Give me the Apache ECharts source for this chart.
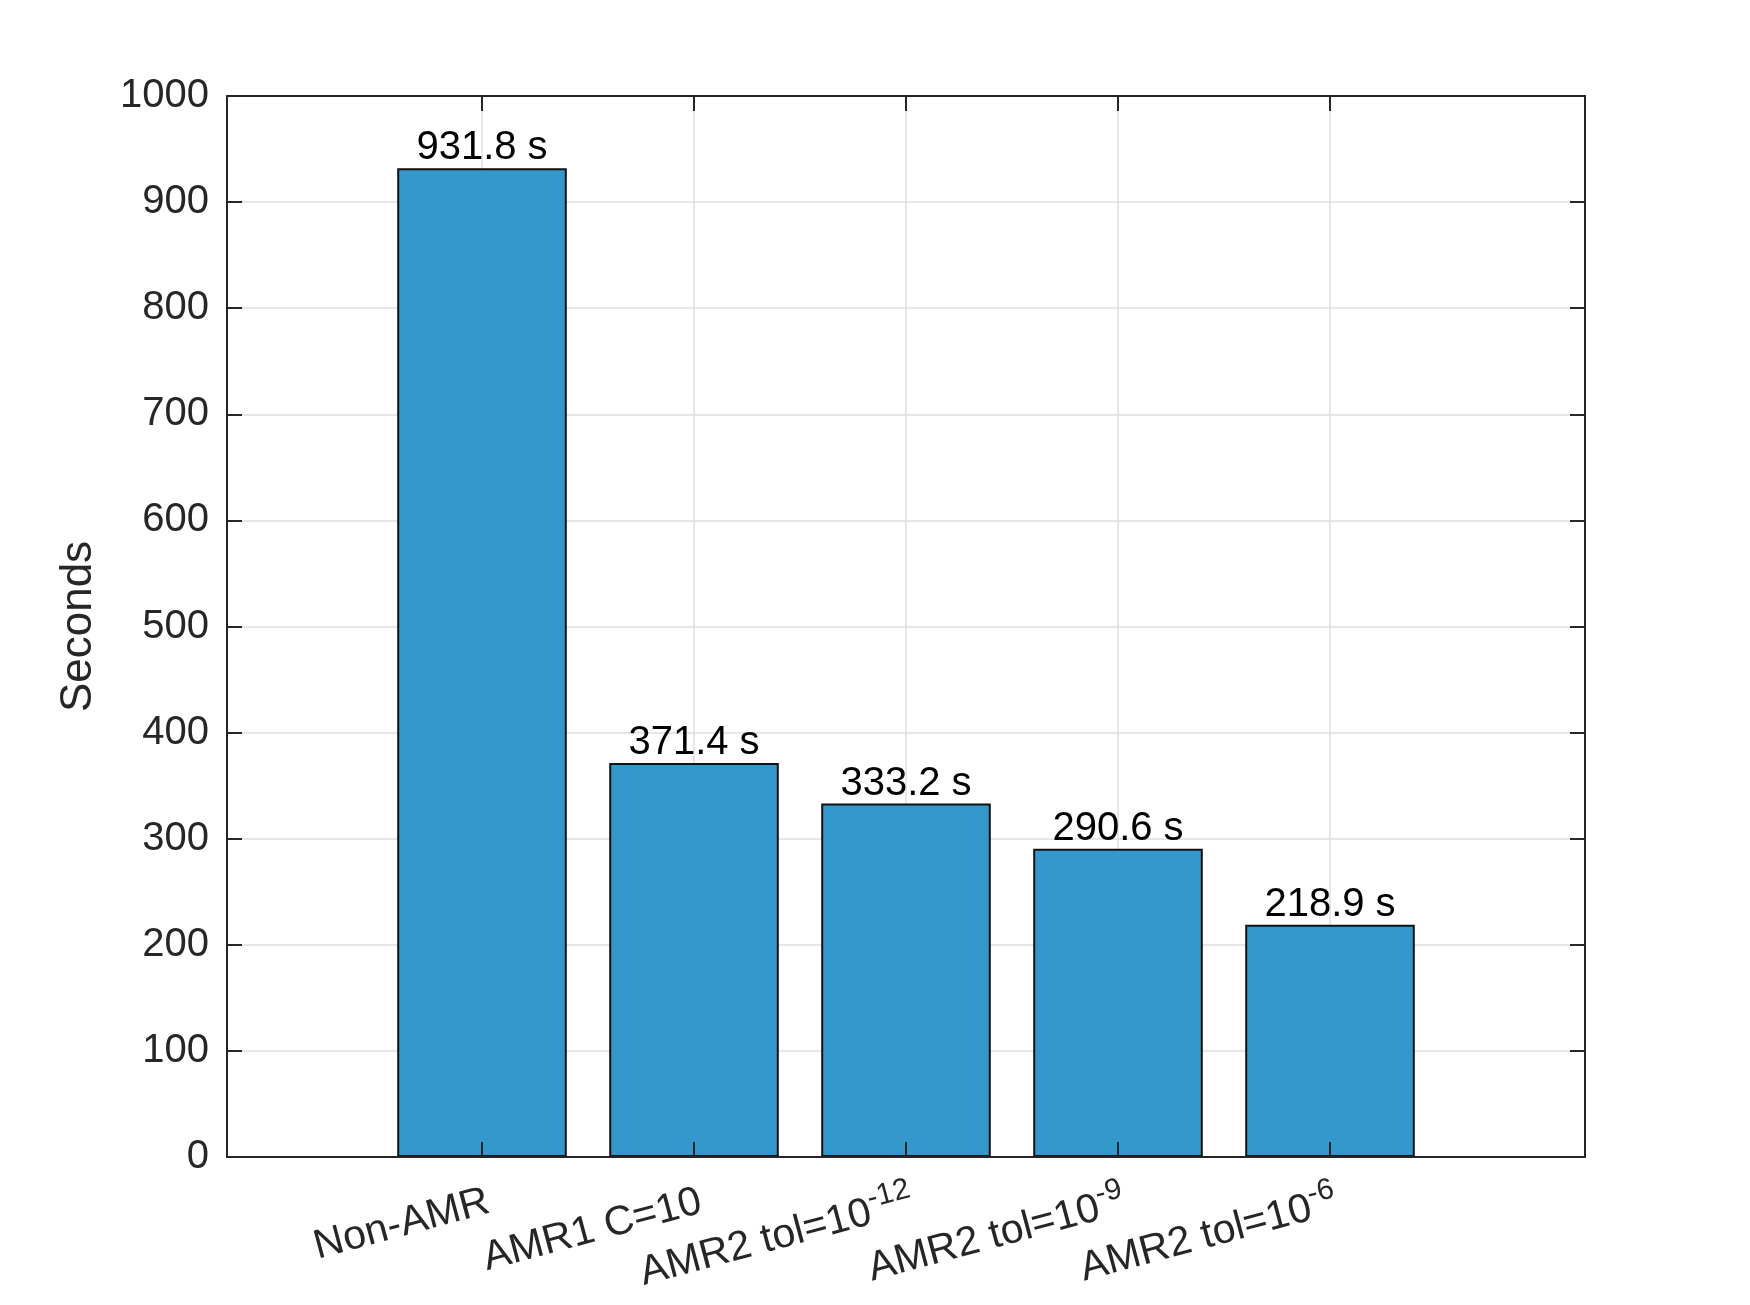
<!DOCTYPE html>
<html>
<head>
<meta charset="utf-8">
<script src="https://cdn.jsdelivr.net/npm/echarts@6/dist/echarts.min.js"></script>
<style>
  html, body { margin: 0; padding: 0; background: #ffffff; }
  #chart { width: 1750px; height: 1305px; }
</style>
</head>
<body>
<div id="chart"></div>
<script>
const categories = ['Non-AMR', 'AMR1 C=10', 'AMR2 tol=10^-12', 'AMR2 tol=10^-9', 'AMR2 tol=10^-6'];
const seconds = [931.8, 371.4, 333.2, 290.6, 218.9];
const yTicks = { min: 0, max: 1000, interval: 100 };
const yAxisTitle = 'Seconds';
const unitSuffix = ' s';

const FONT = '"Liberation Sans", Arial, Helvetica, sans-serif';
const AX = '#262626';
const GRIDC = '#dfdfdf';

const chart = echarts.init(document.getElementById('chart'), null, { renderer: 'canvas' });

function catLabel(v) {
  const parts = v.split('^');
  if (parts.length === 1) return '{b|' + v + '}';
  return '{b|' + parts[0] + '}{s|' + parts[1] + '}';
}

const option = {
  backgroundColor: '#ffffff',
  animation: false,
  grid: [
    { left: 227, right: 165, top: 96, bottom: 148, containLabel: false },
    { left: 376, right: 314, top: 96, bottom: 148, containLabel: false }
  ],
  xAxis: [
    { gridIndex: 0, type: 'value', position: 'bottom', min: 0, max: 1, z: 4,
      axisLine: { show: true, onZero: false, lineStyle: { color: AX, width: 2 } },
      axisTick: { show: false }, axisLabel: { show: false }, splitLine: { show: false } },
    { gridIndex: 0, type: 'value', position: 'top', min: 0, max: 1, z: 4,
      axisLine: { show: true, onZero: false, lineStyle: { color: AX, width: 2 } },
      axisTick: { show: false }, axisLabel: { show: false }, splitLine: { show: false } },
    { gridIndex: 1, type: 'category', position: 'bottom', data: categories, z: 4,
      axisLine: { show: false },
      axisTick: { show: true, inside: true, alignWithLabel: true, length: 15, lineStyle: { color: AX, width: 2 } },
      splitLine: { show: false },
      axisLabel: {
        show: true, rotate: 15, margin: 46, interval: 0,
        formatter: catLabel,
        padding: [0, -7, 0, 0],
        color: AX, fontFamily: FONT, fontSize: 41,
        rich: {
          b: { fontSize: 41, fontFamily: FONT, color: AX },
          s: { fontSize: 30, fontFamily: FONT, color: AX, padding: [0, 0, 26, 0] }
        }
      } },
    { gridIndex: 1, type: 'category', position: 'top', data: categories, z: 4,
      axisLine: { show: false },
      axisTick: { show: true, inside: true, alignWithLabel: true, length: 15, lineStyle: { color: AX, width: 2 } },
      axisLabel: { show: false }, splitLine: { show: false } }
  ],
  yAxis: [
    { gridIndex: 0, type: 'value', position: 'left', min: yTicks.min, max: yTicks.max, interval: yTicks.interval, z: 0,
      name: yAxisTitle, nameLocation: 'middle', nameGap: 126,
      nameTextStyle: { fontSize: 44, fontFamily: FONT, color: AX },
      axisLine: { show: true, onZero: false, lineStyle: { color: AX, width: 2 } },
      axisTick: { show: true, inside: true, length: 15, lineStyle: { color: AX, width: 2 } },
      axisLabel: { show: true, margin: 18, color: AX, fontSize: 40, fontFamily: FONT, padding: [12, 0, 0, 0], formatter: v => String(v) },
      splitLine: { show: true, lineStyle: { color: GRIDC, width: 1.5 } } },
    { gridIndex: 0, type: 'value', position: 'right', min: yTicks.min, max: yTicks.max, interval: yTicks.interval, z: 0,
      axisLine: { show: true, onZero: false, lineStyle: { color: AX, width: 2 } },
      axisTick: { show: true, inside: true, length: 15, lineStyle: { color: AX, width: 2 } },
      axisLabel: { show: false }, splitLine: { show: false } },
    { gridIndex: 1, type: 'value', min: yTicks.min, max: yTicks.max, interval: yTicks.interval, show: false }
  ],
  series: [
    {
      type: 'bar',
      xAxisIndex: 2,
      yAxisIndex: 2,
      data: seconds,
      barWidth: '80%',
      z: 2,
      itemStyle: { color: '#3399cc', borderColor: '#111111', borderWidth: 2 },
      label: {
        show: true, position: 'top', distance: 0,
        color: '#000000', fontSize: 40, fontFamily: FONT,
        formatter: p => p.value.toFixed(1) + unitSuffix
      },
      markLine: {
        silent: true, z: 1, symbol: ['none', 'none'], animation: false,
        label: { show: false },
        lineStyle: { color: GRIDC, width: 1.5, type: 'solid' },
        data: categories.map(c => ({ xAxis: c }))
      }
    }
  ]
};
chart.setOption(option);
</script>
</body>
</html>
